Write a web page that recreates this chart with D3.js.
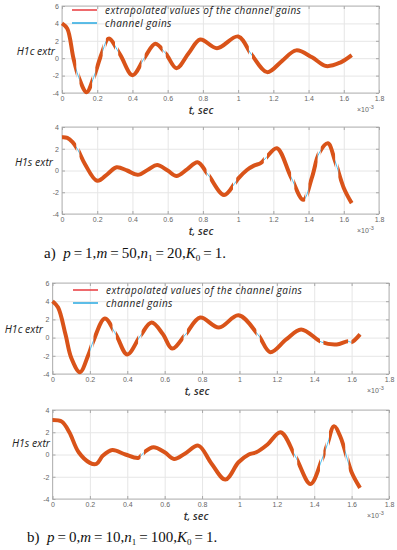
<!DOCTYPE html>
<html><head><meta charset="utf-8">
<script src="https://cdn.jsdelivr.net/npm/d3@7"></script>
<style>
body{margin:0;background:#fff;}
svg{display:block;font-family:"Liberation Sans",Arial,sans-serif;}
</style></head><body>
<svg width="397" height="550"></svg>
<script>
// time in units of 1e-3 s
var xTicks = [0, 0.2, 0.4, 0.6, 0.8, 1, 1.2, 1.4, 1.6, 1.8];
var yTicksC = [-4, -2, 0, 2, 4, 6];
var yTicksS = [-4, -2, 0, 2, 4];
var legendLabels = ['extrapolated values of the channel gains', 'channel gains'];

// a) H1c
var tA1 = [0, 0.03, 0.065, 0.095, 0.14, 0.18, 0.225, 0.265, 0.33, 0.40, 0.47, 0.53, 0.59, 0.65, 0.72, 0.785, 0.88, 1.0, 1.08, 1.165, 1.25, 1.33, 1.42, 1.50, 1.58, 1.645];
var hA1 = [4, 3.4, 0, -2.2, -3.9, -2.2, 0.5, 2.25, 0.4, -1.95, 0.1, 1.65, 0.5, -1.15, 0.6, 2.15, 1.15, 2.5, 0.3, -1.6, -0.3, 0.9, 0.1, -0.9, -0.5, 0.35];
var gA1 = [0.09, 0.18, 0.24, 0.31, 0.46, 0.58, 1.07];
// a) H1s
var tA2 = [0, 0.03, 0.06, 0.09, 0.13, 0.2, 0.26, 0.31, 0.37, 0.43, 0.49, 0.54, 0.6, 0.65, 0.71, 0.77, 0.83, 0.92, 0.98, 1.0, 1.05, 1.09, 1.13, 1.16, 1.22, 1.3, 1.37, 1.42, 1.46, 1.51, 1.55, 1.6, 1.645];
var hA2 = [3.05, 3.0, 2.6, 1.9, 0.6, -0.95, -0.3, 0.3, 0, -0.4, 0.1, 0.5, 0, -0.5, 0.1, 0.75, -0.4, -2.25, -1.2, -0.75, 0.05, 0.45, 0.7, 1.2, 2.05, -0.6, -2.7, -0.6, 1.6, 2.5, 0.9, -1.6, -3.0];
var gA2 = [0.09, 0.83, 0.98, 1.155, 1.31, 1.39, 1.46, 1.56];
// b) H1c
var tB1 = [0, 0.03, 0.07, 0.1, 0.147, 0.19, 0.22, 0.28, 0.34, 0.40, 0.47, 0.53, 0.59, 0.64, 0.71, 0.79, 0.89, 0.995, 1.1, 1.165, 1.25, 1.33, 1.44, 1.52, 1.58, 1.6, 1.645];
var hB1 = [4, 3.3, 0.3, -2.2, -3.8, -2, -0.3, 2.1, 0.3, -1.85, 0.2, 1.65, 0.4, -1.2, 0.3, 2.2, 1.1, 2.45, 0.3, -1.6, -0.2, 0.9, -0.5, -0.75, -0.4, -0.5, 0.35];
var gB1 = [0.21, 0.33, 0.467, 0.71, 1.1, 1.44, 1.59];
// b) H1s
var tB2 = [0, 0.05, 0.09, 0.14, 0.2, 0.235, 0.27, 0.32, 0.39, 0.46, 0.49, 0.54, 0.6, 0.65, 0.71, 0.78, 0.85, 0.925, 0.995, 1.05, 1.09, 1.15, 1.22, 1.3, 1.38, 1.44, 1.47, 1.506, 1.54, 1.6, 1.645];
var hB2 = [3.1, 2.95, 2.0, 0.2, -0.75, -0.85, -0.1, 0.4, 0, -0.3, 0.2, 0.65, 0.2, -0.4, 0.1, 0.8, -0.8, -2.25, -0.7, 0, 0.2, 0.9, 2.0, -0.2, -2.65, -0.5, 0.9, 2.55, 1.6, -1.6, -3.0];
var gB2 = [0.48, 1.3, 1.44, 1.47, 1.575];

var panels = [
  { l: 62, r: 379, top: 6, bot: 93, yd: [-4, 6], yt: yTicksC, t: tA1, h: hA1, gaps: gA1, ylab: 'H1c extr', ylx: 55, yly: 55, xlc: 201, legend: [72, 10, 105, 13] },
  { l: 62, r: 379, top: 127, bot: 214, yd: [-4, 4], yt: yTicksS, t: tA2, h: hA2, gaps: gA2, ylab: 'H1s extr', ylx: 53, yly: 166, xlc: 201 },
  { l: 52.5, r: 389, top: 283, bot: 374, yd: [-4, 6], yt: yTicksC, t: tB1, h: hB1, gaps: gB1, ylab: 'H1c extr', ylx: 43, yly: 333, xlc: 197, legend: [73, 290, 106, 13] },
  { l: 52.5, r: 389, top: 410, bot: 499, yd: [-4, 4], yt: yTicksS, t: tB2, h: hB2, gaps: gB2, ylab: 'H1s extr', ylx: 50, yly: 447, xlc: 196 }
];

var svg = d3.select('svg');
var fmt = function (d) { return String(d); };
var gapHalf = 0.009;

panels.forEach(function (p, i) {
  var x = d3.scaleLinear().domain([0, 1.8]).range([p.l, p.r]);
  var y = d3.scaleLinear().domain(p.yd).range([p.bot, p.top]);
  var w = p.r - p.l, hgt = p.bot - p.top;
  var g = svg.append('g');

  // grid
  g.append('g').attr('transform', 'translate(0,' + p.bot + ')')
    .call(d3.axisBottom(x).tickValues(xTicks).tickSize(-hgt).tickFormat(''))
    .call(function (s) { s.select('.domain').remove(); s.selectAll('line').attr('stroke', '#e6e6e6'); });
  g.append('g').attr('transform', 'translate(' + p.l + ',0)')
    .call(d3.axisLeft(y).tickValues(p.yt).tickSize(-w).tickFormat(''))
    .call(function (s) { s.select('.domain').remove(); s.selectAll('line').attr('stroke', '#e6e6e6'); });

  // box + ticks
  g.append('rect').attr('x', p.l).attr('y', p.top).attr('width', w).attr('height', hgt)
    .attr('fill', 'none').attr('stroke', '#a8a8a8').attr('stroke-width', 0.8);
  function style(s) {
    s.select('.domain').remove();
    s.selectAll('line').attr('stroke', '#a8a8a8');
    s.selectAll('text').attr('fill', '#666').attr('font-size', 7);
  }
  g.append('g').attr('transform', 'translate(0,' + p.bot + ')')
    .call(d3.axisBottom(x).tickValues(xTicks).tickSize(-3).tickPadding(3).tickFormat(fmt)).call(style);
  g.append('g').attr('transform', 'translate(0,' + p.top + ')')
    .call(d3.axisTop(x).tickValues(xTicks).tickSize(-3).tickFormat('')).call(style);
  g.append('g').attr('transform', 'translate(' + p.l + ',0)')
    .call(d3.axisLeft(y).tickValues(p.yt).tickSize(-3).tickPadding(3).tickFormat(fmt)).call(style);
  g.append('g').attr('transform', 'translate(' + p.r + ',0)')
    .call(d3.axisRight(y).tickValues(p.yt).tickSize(-3).tickFormat('')).call(style);

  // x label and exponent
  g.append('text').attr('x', p.xlc).attr('y', p.bot + 21)
    .attr('text-anchor', 'middle').attr('font-family', 'Open Sans, sans-serif')
    .attr('font-style', 'italic').attr('font-weight', 600).attr('font-size', 10.5).attr('fill', '#333')
    .text('t, sec');
  var ex = g.append('text').attr('x', p.r - 22).attr('y', p.bot + 19)
    .attr('font-size', 7).attr('fill', '#666');
  ex.append('tspan').text('\u00d710');
  ex.append('tspan').attr('dy', -3).attr('font-size', 5.5).text('-3');

  // y label
  g.append('text').attr('x', p.ylx).attr('y', p.yly).attr('text-anchor', 'end')
    .attr('font-family', 'Open Sans, sans-serif').attr('font-style', 'italic')
    .attr('font-size', 10.5).attr('fill', '#222').text(p.ylab);

  // data
  var pts = p.t.map(function (t, k) { return [t, p.h[k]]; });
  var line = d3.line().x(function (d) { return x(d[0]); }).y(function (d) { return y(d[1]); })
    .curve(d3.curveCatmullRom.alpha(0.5));

  g.append('path').attr('d', line(pts)).attr('fill', 'none')
    .attr('stroke', '#4dbeee').attr('stroke-width', 1);

  // extrapolated values drawn thick, broken at the gaps
  var edges = [-0.1];
  p.gaps.forEach(function (c) { edges.push(c - gapHalf, c + gapHalf); });
  edges.push(1.9);
  var clip = svg.append('clipPath').attr('id', 'clip' + i);
  for (var k = 0; k < edges.length; k += 2) {
    clip.append('rect').attr('x', x(edges[k])).attr('width', x(edges[k + 1]) - x(edges[k]))
      .attr('y', p.top - 10).attr('height', hgt + 20);
  }
  g.append('path').attr('d', line(pts)).attr('fill', 'none')
    .attr('clip-path', 'url(#clip' + i + ')')
    .attr('stroke', '#d95319').attr('stroke-width', 4).attr('stroke-linejoin', 'round');

  // legend
  if (p.legend) {
    var lg = p.legend;
    var cols = ['#e8393c', '#27a9e1'];
    legendLabels.forEach(function (lab, k) {
      var yy = lg[1] + k * lg[3];
      g.append('line').attr('x1', lg[0]).attr('x2', lg[0] + 25).attr('y1', yy).attr('y2', yy)
        .attr('stroke', cols[k]).attr('stroke-width', 1.5);
      g.append('text').attr('x', lg[2]).attr('y', yy + 4)
        .attr('font-family', 'Open Sans, sans-serif').attr('font-style', 'italic')
        .attr('font-size', 10).attr('letter-spacing', 0.45).attr('fill', '#222').text(lab);
    });
  }
});

// captions
function caption(xp, yp, letter, vals) {
  var t = svg.append('text').attr('x', xp).attr('y', yp)
    .attr('font-family', 'Liberation Serif, Times New Roman, serif').attr('font-size', 15).attr('fill', '#111');
  t.append('tspan').text(letter + ')\u00a0\u00a0');
  var names = [['p', ''], ['m', ''], ['n', '1'], ['K', '0']];
  names.forEach(function (n, k) {
    t.append('tspan').attr('font-style', 'italic').text(n[0]);
    if (n[1]) t.append('tspan').attr('font-size', 9).attr('dy', 3).text(n[1]);
    t.append('tspan').attr('dy', n[1] ? -3 : 0).text('\u2009=\u2009' + vals[k] + (k < 3 ? ',' : '.'));
  });
}
caption(44, 258, 'a', [1, 50, 20, 1]);
caption(27, 542, 'b', [0, 10, 100, 1]);
</script>
</body></html>
